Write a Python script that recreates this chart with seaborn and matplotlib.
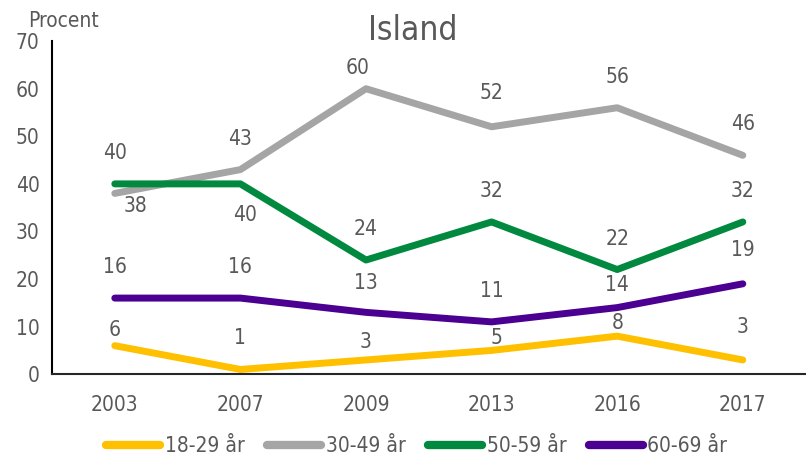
import matplotlib
matplotlib.use("Agg")
import matplotlib.pyplot as plt
import seaborn as sns
import pandas as pd

# data
years = ["2003", "2007", "2009", "2013", "2016", "2017"]
groups = ["18-29 år", "30-49 år", "50-59 år", "60-69 år"]
v_18_29 = [6, 1, 3, 5, 8, 3]
v_30_49 = [38, 43, 60, 52, 56, 46]
v_50_59 = [40, 40, 24, 32, 22, 32]
v_60_69 = [16, 16, 13, 11, 14, 19]
colors = ["#FFC000", "#A5A5A5", "#00893F", "#4B0091"]

# label nudges in pixels (dx, dy), default is straight above the point
nudge = {("30-49 år", "2003"): (21, -13), ("50-59 år", "2007"): (5, -31),
         ("18-29 år", "2003"): (0, 16), ("30-49 år", "2009"): (-8, 21),
         ("18-29 år", "2009"): (0, 18), ("30-49 år", "2013"): (0, 34),
         ("18-29 år", "2013"): (5, 12), ("60-69 år", "2016"): (0, 23),
         ("18-29 år", "2016"): (0, 13), ("60-69 år", "2017"): (0, 34),
         ("18-29 år", "2017"): (0, 33), ("60-69 år", "2009"): (0, 29)}

df = pd.DataFrame({"Year": years * 4,
                   "Group": [g for g in groups for _ in years],
                   "Value": v_18_29 + v_30_49 + v_50_59 + v_60_69})

sns.set_style("white")
plt.rcParams["font.family"] = ["DejaVu Sans"]
plt.rcParams["font.stretch"] = "condensed"
txt = "#595959"

fig = plt.figure(figsize=(8.06, 4.62), dpi=100)
ax = fig.add_axes([0.0645, 0.19, 0.935, 0.721])

sns.lineplot(data=df, x="Year", y="Value", hue="Group", palette=colors,
             linewidth=5, solid_capstyle="round", ax=ax, sort=False)

for _, r in df.iterrows():
    dx, dy = nudge.get((r["Group"], r["Year"]), (0, 31))
    ax.annotate(str(r["Value"]), (r["Year"], r["Value"]), xytext=(dx, dy),
                textcoords="offset pixels", ha="center", va="center",
                fontsize=15, color=txt)

ax.set_xlim(-0.5, 5.5)
ax.set_ylim(0, 70)
ax.set_yticks(range(0, 71, 10))
ax.set_xlabel("")
ax.set_ylabel("")
for s in ["top", "right"]:
    ax.spines[s].set_visible(False)
ax.spines["left"].set_color("black")
ax.spines["left"].set_linewidth(1.5)
ax.spines["bottom"].set_color("#262626")
ax.spines["bottom"].set_linewidth(1.5)
ax.tick_params(axis="y", direction="in", length=6, width=1.5, color="black",
               labelsize=15, labelcolor=txt, pad=9)
ax.tick_params(axis="x", length=0, labelsize=15, labelcolor=txt, pad=15)

fig.text(0.512, 0.935, "Island", ha="center", va="center", fontsize=24, color=txt)
fig.text(0.035, 0.955, "Procent", ha="left", va="center", fontsize=15, color=txt)

leg = ax.legend(loc="upper center", bbox_to_anchor=(0.484, -0.13), ncol=4,
                frameon=False, fontsize=15, handlelength=2.6, handletextpad=0.2,
                columnspacing=1.1, labelcolor=txt)
for h in leg.get_lines():
    h.set_linewidth(6)
    h.set_solid_capstyle("round")

fig.savefig("out.png", dpi=100)
